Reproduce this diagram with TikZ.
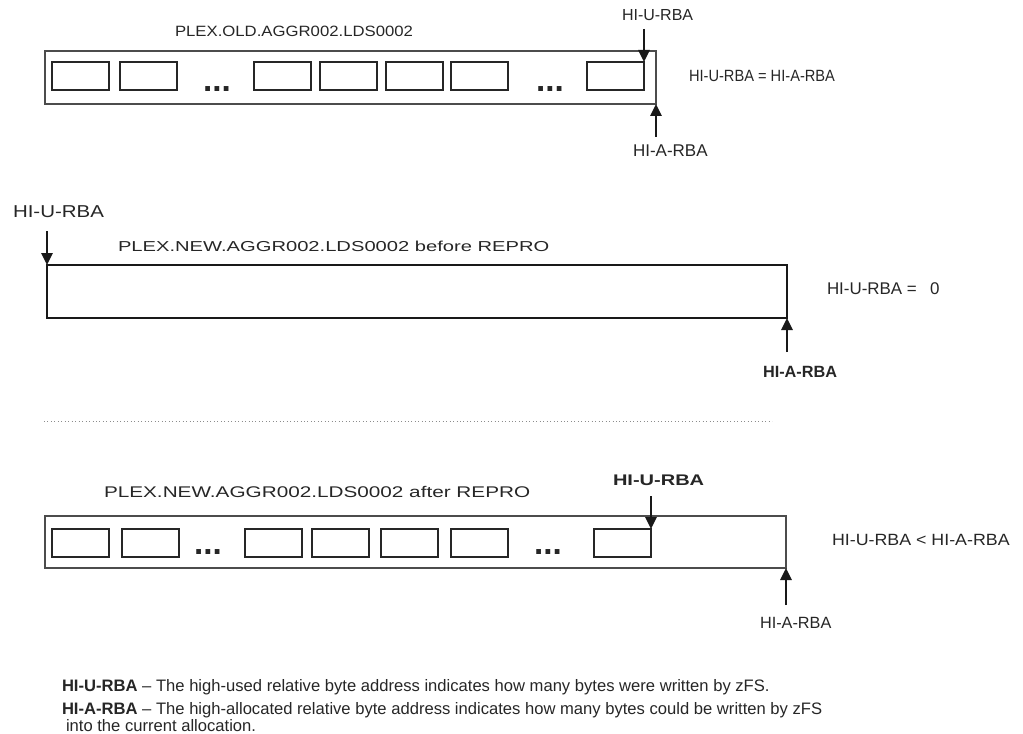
\documentclass[tikz,border=0pt]{standalone}
\usepackage{fontspec}
\setmainfont{Liberation Sans}
\usepackage{graphicx}
\usetikzlibrary{arrows.meta,positioning}

\newcommand{\widen}[2]{\scalebox{#1}[1]{#2}}
\newcommand{\fs}[1]{\fontsize{#1}{#1}\selectfont}

\begin{document}
\begin{tikzpicture}[
  x=0.75pt, y=-0.75pt,
  every node/.style={inner sep=0pt, outer sep=0pt, text=black!85},
  extent/.style={rectangle, draw=black!70, line width=0.8pt, minimum height=39.75pt, anchor=north west},
  cell/.style={rectangle, draw=black!85, line width=0.95pt, minimum width=42.75pt, minimum height=21pt, anchor=north west},
  dots/.style={font=\bfseries\fs{25}, anchor=base west},
  lbl/.style={anchor=base west},
  note/.style={anchor=base west, align=left, font=\fontsize{12.45}{11.25}\selectfont},
  ptr/.style={-{Triangle[length=9pt, width=8.5pt]}, line width=1.5pt, draw=black!90},
  sep/.style={dotted, draw=black!45, line width=0.6pt}
]
\useasboundingbox (0,0) rectangle (1023,734);

\node[lbl, font=\fs{11.2}] (oldname) at (175,37) {\widen{1.12}{PLEX.OLD.AGGR002.LDS0002}};
\node[extent, minimum width=458.25pt] (oldset) at (45,51) {};
\node[cell] (o1) at (52,62) {};
\node[cell, right=8.25pt of o1] (o2) {};
\node[dots] (odotsA) at (203,92) {...};
\node[cell] (o3) at (254,62) {};
\node[cell, right=6.75pt of o3] (o4) {};
\node[cell, right=6.75pt of o4] (o5) {};
\node[cell, right=6pt of o5] (o6) {};
\node[dots] (odotsB) at (536,92) {...};
\node[cell] (o7) at (587,62) {};
\node[lbl, font=\fs{12}] (uold) at (622,21) {HI-U-RBA};
\node[lbl, font=\fs{12.2}] (eqold) at (689,82) {\widen{0.9}{HI-U-RBA = HI-A-RBA}};
\node[lbl, font=\fs{12.75}] (aold) at (633,157) {HI-A-RBA};
\coordinate[above=24.75pt of o7.north east] (uoldtail);
\coordinate[below=24.75pt of oldset.south east] (aoldtail);
\draw[ptr] (uoldtail) -- (o7.north east);
\draw[ptr] (aoldtail) -- (oldset.south east);

\node[lbl, font=\fs{12.9}] (ubefore) at (13,218) {\widen{1.19}{HI-U-RBA}};
\node[lbl, font=\fs{10.8}] (beforename) at (118,252) {\widen{1.4}{PLEX.NEW.AGGR002.LDS0002 before REPRO}};
\node[extent, minimum width=555pt, draw=black!90] (newset) at (47,265) {};
\node[lbl, font=\fs{12.7}] (eqbefore) at (827,294) {HI-U-RBA =\hspace{10pt}0};
\node[lbl, font=\bfseries\fs{12.2}] (abefore) at (763,377) {HI-A-RBA};
\coordinate[above=25.5pt of newset.north west] (ubeforetail);
\coordinate[below=25.5pt of newset.south east] (abeforetail);
\draw[ptr] (ubeforetail) -- (newset.north west);
\draw[ptr] (abeforetail) -- (newset.south east);

\draw[sep] (44,421) -- (772,421);

\node[lbl, font=\fs{11.6}] (aftername) at (104,497) {\widen{1.34}{PLEX.NEW.AGGR002.LDS0002 after REPRO}};
\node[extent, minimum width=555.75pt, minimum height=39pt] (afterset) at (45,516) {};
\node[cell] (n1) at (52,529) {};
\node[cell, right=9.75pt of n1] (n2) {};
\node[dots] (ndotsA) at (194,554) {...};
\node[cell] (n3) at (245,529) {};
\node[cell, right=7.5pt of n3] (n4) {};
\node[cell, right=9pt of n4] (n5) {};
\node[cell, right=9.75pt of n5] (n6) {};
\node[dots] (ndotsB) at (534,554) {...};
\node[cell] (n7) at (594,529) {};
\node[lbl, font=\bfseries\fs{11.55}] (uafter) at (613,485) {\widen{1.3}{HI-U-RBA}};
\node[lbl, font=\fs{12.2}] (ltafter) at (832,545) {\widen{1.095}{HI-U-RBA < HI-A-RBA}};
\node[lbl, font=\fs{12.2}] (aafter) at (760,628) {HI-A-RBA};
\coordinate[above=24.75pt of n7.north east] (uaftertail);
\coordinate[below=27.75pt of afterset.south east] (aaftertail);
\draw[ptr] (uaftertail) -- (n7.north east);
\draw[ptr] (aaftertail) -- (afterset.south east);

\node[note] (noteU) at (62,691) {\textbf{HI-U-RBA} -- The high-used relative byte address indicates how many bytes were written by zFS.};
\node[note] (noteA) at (62,731) {\textbf{HI-A-RBA} -- The high-allocated relative byte address indicates how many bytes could be written by zFS\\\hspace*{3pt}into the current allocation.};
\end{tikzpicture}
\end{document}
